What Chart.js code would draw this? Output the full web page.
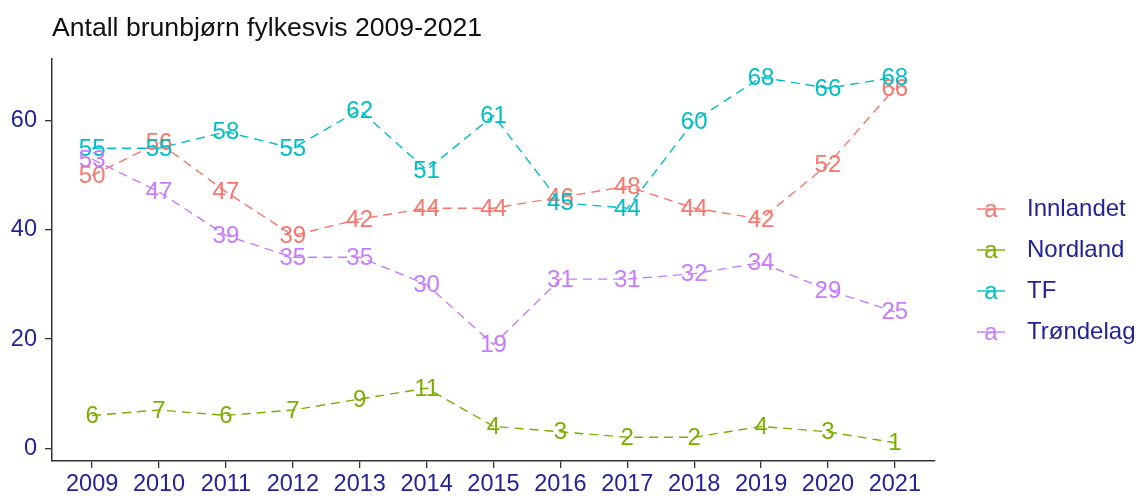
<!DOCTYPE html>
<html>
<head>
<meta charset="utf-8">
<script src="https://cdn.jsdelivr.net/npm/chart.js@4/dist/chart.umd.min.js"></script>
<style>
html,body{margin:0;padding:0;background:#fff;}
#wrap{width:1144px;height:498px;position:relative;}
</style>
</head>
<body>
<div id="wrap"><canvas id="c"></canvas></div>
<script>
const years = [2009,2010,2011,2012,2013,2014,2015,2016,2017,2018,2019,2020,2021];
const innlandet = [50,56,47,39,42,44,44,46,48,44,42,52,66];
const nordland  = [6,7,6,7,9,11,4,3,2,2,4,3,1];
const tf        = [55,55,58,55,62,51,61,45,44,60,68,66,68];
const trondelag = [53,47,39,35,35,30,19,31,31,32,34,29,25];
const seriesNames = ['Innlandet','Nordland','TF','Trøndelag'];
const seriesColors = ['#F8766D','#7CAE00','#00BFC4','#C77CFF'];
const yTicks = [0,20,40,60];
const titleText = 'Antall brunbjørn fylkesvis 2009-2021';

const FONT = '"Liberation Sans", Arial, sans-serif';
const NAVY = '#22229b';

const seriesValues = [innlandet, nordland, tf, trondelag];
const datasets = seriesValues.map((vals, i) => ({
  label: seriesNames[i],
  data: years.map((y, j) => ({x: y, y: vals[j]})),
  borderColor: seriesColors[i],
  backgroundColor: seriesColors[i],
  borderWidth: 1.4,
  borderDash: [9, 6],
  pointRadius: 0,
  tension: 0,
  order: 10 - i
}));

const labelPlugin = {
  id: 'labels',
  afterDatasetsDraw(chart) {
    const ctx = chart.ctx;
    ctx.save();
    ctx.font = '24px ' + FONT;
    ctx.textAlign = 'center';
    ctx.textBaseline = 'middle';
    chart.data.datasets.forEach((ds, i) => {
      const meta = chart.getDatasetMeta(i);
      ctx.fillStyle = seriesColors[i];
      meta.data.forEach((pt, j) => {
        ctx.fillText(String(seriesValues[i][j]), pt.x, pt.y + 1);
      });
    });
    ctx.restore();
  }
};

const decoPlugin = {
  id: 'deco',
  afterDraw(chart) {
    const ctx = chart.ctx;
    ctx.save();
    // title
    ctx.font = '26.6px ' + FONT;
    ctx.fillStyle = '#111';
    ctx.textAlign = 'left';
    ctx.textBaseline = 'alphabetic';
    ctx.fillText(titleText, 52, 36);
    // legend
    seriesNames.forEach((name, i) => {
      const cy = 209 + i * 41;
      ctx.strokeStyle = seriesColors[i];
      ctx.lineWidth = 1.4;
      ctx.beginPath();
      ctx.moveTo(977, cy);
      ctx.lineTo(1005, cy);
      ctx.stroke();
      ctx.font = '24px ' + FONT;
      ctx.fillStyle = seriesColors[i];
      ctx.textAlign = 'center';
      ctx.textBaseline = 'middle';
      ctx.fillText('a', 991, cy + 1);
      ctx.fillStyle = NAVY;
      ctx.textAlign = 'left';
      ctx.fillText(name, 1027, cy);
    });
    ctx.restore();
  }
};

new Chart(document.getElementById('c'), {
  type: 'line',
  data: { datasets },
  options: {
    responsive: true,
    maintainAspectRatio: false,
    animation: false,
    layout: { padding: { top: 59, right: 209, left: 0, bottom: 0 } },
    plugins: { legend: { display: false }, title: { display: false }, tooltip: { enabled: false } },
    scales: {
      x: {
        type: 'linear',
        min: 2008.4,
        max: 2021.6,
        afterBuildTicks: (s) => { s.ticks = years.map(v => ({value: v})); },
        afterFit: (s) => { s.height = 37; },
        border: { display: true, color: '#333', width: 1.5 },
        grid: { drawOnChartArea: false, drawTicks: true, tickLength: 7, color: '#333', lineWidth: 1.3 },
        ticks: { color: NAVY, font: { size: 23.5, family: FONT }, padding: 2, maxRotation: 0, autoSkip: false,
                 callback: (v) => String(v) }
      },
      y: {
        type: 'linear',
        min: -2.35,
        max: 71.35,
        afterBuildTicks: (s) => { s.ticks = yTicks.map(v => ({value: v})); },
        afterFit: (s) => { s.width = 52; },
        border: { display: true, color: '#333', width: 1.5 },
        grid: { drawOnChartArea: false, drawTicks: true, tickLength: 7, color: '#333', lineWidth: 1.3 },
        ticks: { color: NAVY, font: { size: 23.5, family: FONT }, padding: 8, callback: (v) => String(v) }
      }
    }
  },
  plugins: [labelPlugin, decoPlugin]
});
</script>
</body>
</html>
